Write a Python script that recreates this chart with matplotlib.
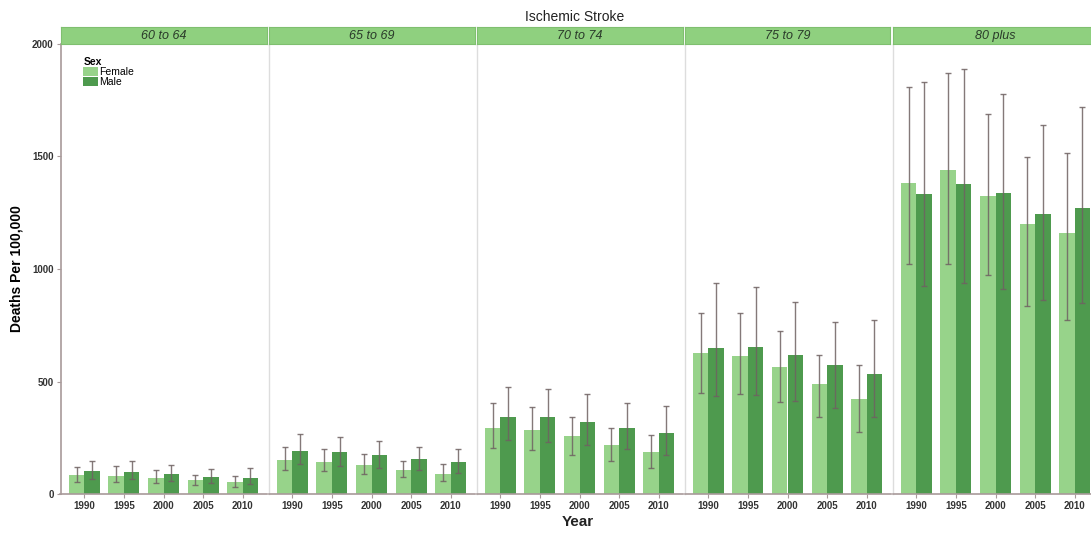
import matplotlib
matplotlib.use("Agg")
import matplotlib.pyplot as plt
import numpy as np

plt.rcParams['font.family'] = ['Liberation Sans', 'DejaVu Sans']

panels = ["60 to 64", "65 to 69", "70 to 74", "75 to 79", "80 plus"]
years = ["1990", "1995", "2000", "2005", "2010"]

female = [
    [87, 83, 74, 62, 53],
    [150, 145, 129, 110, 92],
    [296, 287, 258, 219, 187],
    [625, 613, 563, 490, 424],
    [1381, 1440, 1323, 1201, 1160],
]
female_lo = [
    [55, 55, 48, 40, 33],
    [107, 105, 88, 75, 60],
    [207, 195, 176, 147, 116],
    [449, 446, 409, 342, 276],
    [1021, 1021, 972, 836, 773],
]
female_hi = [
    [120, 124, 108, 87, 81],
    [209, 200, 181, 148, 136],
    [407, 387, 345, 292, 265],
    [804, 803, 726, 616, 573],
    [1807, 1868, 1686, 1496, 1514],
]
male = [
    [104, 99, 90, 77, 71],
    [193, 188, 173, 155, 145],
    [342, 342, 321, 292, 270],
    [650, 655, 618, 573, 536],
    [1333, 1376, 1336, 1244, 1271],
]
male_lo = [
    [68, 66, 60, 50, 45],
    [136, 126, 116, 107, 96],
    [240, 231, 218, 200, 176],
    [434, 439, 415, 385, 341],
    [926, 936, 912, 861, 848],
]
male_hi = [
    [147, 147, 129, 114, 116],
    [267, 253, 237, 209, 203],
    [477, 467, 447, 407, 394],
    [936, 921, 855, 766, 773],
    [1830, 1889, 1776, 1640, 1717],
]

F_COL = "#97d38a"
M_COL = "#4e9a4e"
STRIP = "#8fd07f"
ERR = "#6f6262"
AX = "#a89a9a"

W, H = 1091, 533
fig = plt.figure(figsize=(W / 100, H / 100), dpi=100)

left0 = 60.5
pw = 206
gap = 2
bottom_px = 494.3
top_px = 43.6
strip_h = 17

x = np.arange(1, 6)
bw = 0.39

for i, name in enumerate(panels):
    lpx = left0 + i * (pw + gap)
    width_px = pw if i < 4 else (W - lpx + 8)
    ax = fig.add_axes([lpx / W, 1 - bottom_px / H, width_px / W, (bottom_px - top_px) / H])
    xmax = 5.6 if i < 4 else 0.4 + 5.2 * width_px / pw
    ax.set_xlim(0.4, xmax)
    ax.set_ylim(0, 2000)
    f = np.array(female[i]); m = np.array(male[i])
    ax.bar(x - bw / 2, f, width=bw, color=F_COL, zorder=2, label="Female")
    ax.bar(x + bw / 2, m, width=bw, color=M_COL, zorder=2, label="Male")
    ax.errorbar(x - bw / 2, f,
                yerr=[f - np.array(female_lo[i]), np.array(female_hi[i]) - f],
                fmt="none", ecolor=ERR, elinewidth=1.0, capsize=2, capthick=1.0, alpha=0.85, zorder=3)
    ax.errorbar(x + bw / 2, m,
                yerr=[m - np.array(male_lo[i]), np.array(male_hi[i]) - m],
                fmt="none", ecolor=ERR, elinewidth=1.0, capsize=2, capthick=1.0, alpha=0.85, zorder=3)
    ax.set_xticks(x)
    ax.set_xticklabels(years, fontsize=7, fontweight="bold", color="#333333")
    for s in ["top", "right"]:
        ax.spines[s].set_visible(False)
    ax.spines["bottom"].set_color(AX)
    ax.spines["bottom"].set_linewidth(1.2)
    ax.tick_params(axis="x", length=3, color=AX, pad=2)
    if i == 0:
        ax.spines["left"].set_color(AX)
        ax.spines["left"].set_linewidth(1.2)
        ax.set_yticks([0, 500, 1000, 1500, 2000])
        ax.set_yticklabels(["0", "500", "1000", "1500", "2000"], fontsize=7,
                           fontweight="bold", color="#333333")
        ax.tick_params(axis="y", length=3, color=AX, pad=2)
        ax.set_ylabel("Deaths Per 100,000", fontsize=10, fontweight="bold", labelpad=6)
        leg = ax.legend(loc="upper left", bbox_to_anchor=(0.08, 0.985), title="Sex",
                        frameon=False, fontsize=7.5, handlelength=1.4, handleheight=1.0,
                        handletextpad=0.1, labelspacing=0.0, borderaxespad=0.2)
        leg.get_title().set_fontweight("bold")
        leg.get_title().set_fontsize(7.5)
        leg._legend_box.align = "left"
    else:
        ax.spines["left"].set_color("#dddddd")
        ax.spines["left"].set_linewidth(1.0)
        ax.set_yticks([])
    # strip
    sax = fig.add_axes([lpx / W, 1 - top_px / H, width_px / W, strip_h / H])
    sax.set_xticks([]); sax.set_yticks([])
    sax.set_facecolor(STRIP)
    for s in sax.spines.values():
        s.set_color("#7fbf6f")
        s.set_linewidth(0.8)
    sax.text(pw / width_px / 2 if i == 4 else 0.5, 0.45, name, transform=sax.transAxes,
             ha="center", va="center", fontsize=9, style="italic", color="#2a3a2a")

fig.text(575 / W, 1 - 17 / H, "Ischemic Stroke", ha="center", va="center", fontsize=10, color="#222222")
fig.text(578 / W, 1 - 522 / H, "Year", ha="center", va="center", fontsize=11, fontweight="bold", color="#222222")

fig.savefig("out.png", dpi=100)
